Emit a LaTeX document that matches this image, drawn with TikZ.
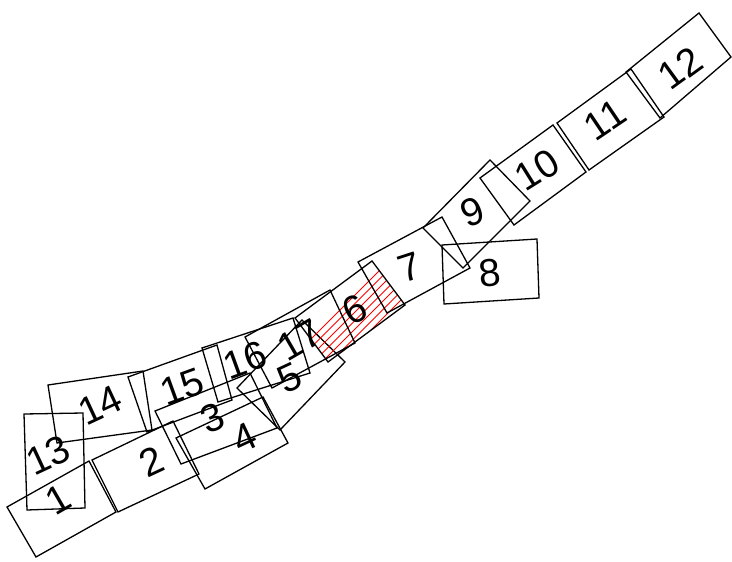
\documentclass[tikz,border=0pt]{standalone}
\usepackage{fontspec}
\setmainfont{Liberation Sans}
\begin{document}
\begin{tikzpicture}[x=1pt,y=-1pt,
  fp/.style={draw=black,line width=1.3pt,line join=miter},
  hatchline/.style={draw=red,line width=0.75pt},
  lbl/.style={inner sep=0pt,font=\fontsize{39}{39}\selectfont}]
\useasboundingbox (0,0) rectangle (732,562);
% footprints
\draw[fp] (7,507) -- (89,461) -- (116,512) -- (36,557) -- cycle;
\draw[fp] (92,460) -- (173,421) -- (199,474) -- (118,512) -- cycle;
\draw[fp] (155,411) -- (250,373) -- (277,428) -- (181,464) -- cycle;
\draw[fp] (176,438) -- (263,397) -- (288,443) -- (205,489) -- cycle;
\draw[fp] (237,388) -- (302,320) -- (345,362) -- (280,430) -- cycle;
\begin{scope}
  \clip (295,318) -- (372,261) -- (405,305) -- (328,362) -- cycle;
  \foreach \k in {0,...,34} \draw[hatchline] (230+\k*8.5,420) -- ++(200,-200);
\end{scope}
\draw[fp] (295,318) -- (372,261) -- (405,305) -- (328,362) -- cycle;
\draw[fp] (358,262) -- (442,217) -- (470,268) -- (387,313) -- cycle;
\draw[fp] (442,245) -- (537,239) -- (539,298) -- (444,304) -- cycle;
\draw[fp] (423,228) -- (490,160) -- (530,201) -- (463,268) -- cycle;
\draw[fp] (480,178) -- (553,125) -- (586,172) -- (514,225) -- cycle;
\draw[fp] (557,123) -- (631,69) -- (664,117) -- (589,170) -- cycle;
\draw[fp] (626,72) -- (699,13) -- (731,57) -- (660,118) -- cycle;
\draw[fp] (24,414) -- (83,413) -- (85,508) -- (27,510) -- cycle;
\draw[fp] (48,385) -- (143,371) -- (152,430) -- (57,443) -- cycle;
\draw[fp] (128,377) -- (217,345) -- (232,400) -- (147,432) -- cycle;
\draw[fp] (202,348) -- (293,318) -- (310,373) -- (218,402) -- cycle;
\draw[fp] (245,337) -- (330,290) -- (355,343) -- (272,388) -- cycle;
% labels
\node[lbl,rotate=30] (l1) at (58,499) {1};
\node[lbl,rotate=25] (l2) at (152,462) {2};
\node[lbl,rotate=22] (l3) at (213,418) {3};
\node[lbl,rotate=25] (l4) at (245,438) {4};
\node[lbl,rotate=25] (l5) at (290,378) {5};
\node[lbl,rotate=28] (l6) at (355,310) {6};
\node[lbl,rotate=18] (l7) at (410,267) {7};
\node[lbl,rotate=6] (l8) at (490,273) {8};
\node[lbl,rotate=22] (l9) at (473,212) {9};
\node[lbl,rotate=32] (l10) at (537,170) {10};
\node[lbl,rotate=34] (l11) at (605,120) {11};
\node[lbl,rotate=36] (l12) at (680,68) {12};
\node[lbl,rotate=25] (l13) at (48,455) {13};
\node[lbl,rotate=25] (l14) at (100,405) {14};
\node[lbl,rotate=20] (l15) at (182,387) {15};
\node[lbl,rotate=20] (l16) at (245,360) {16};
\node[lbl,rotate=30] (l17) at (300,340) {17};
\end{tikzpicture}
\end{document}
